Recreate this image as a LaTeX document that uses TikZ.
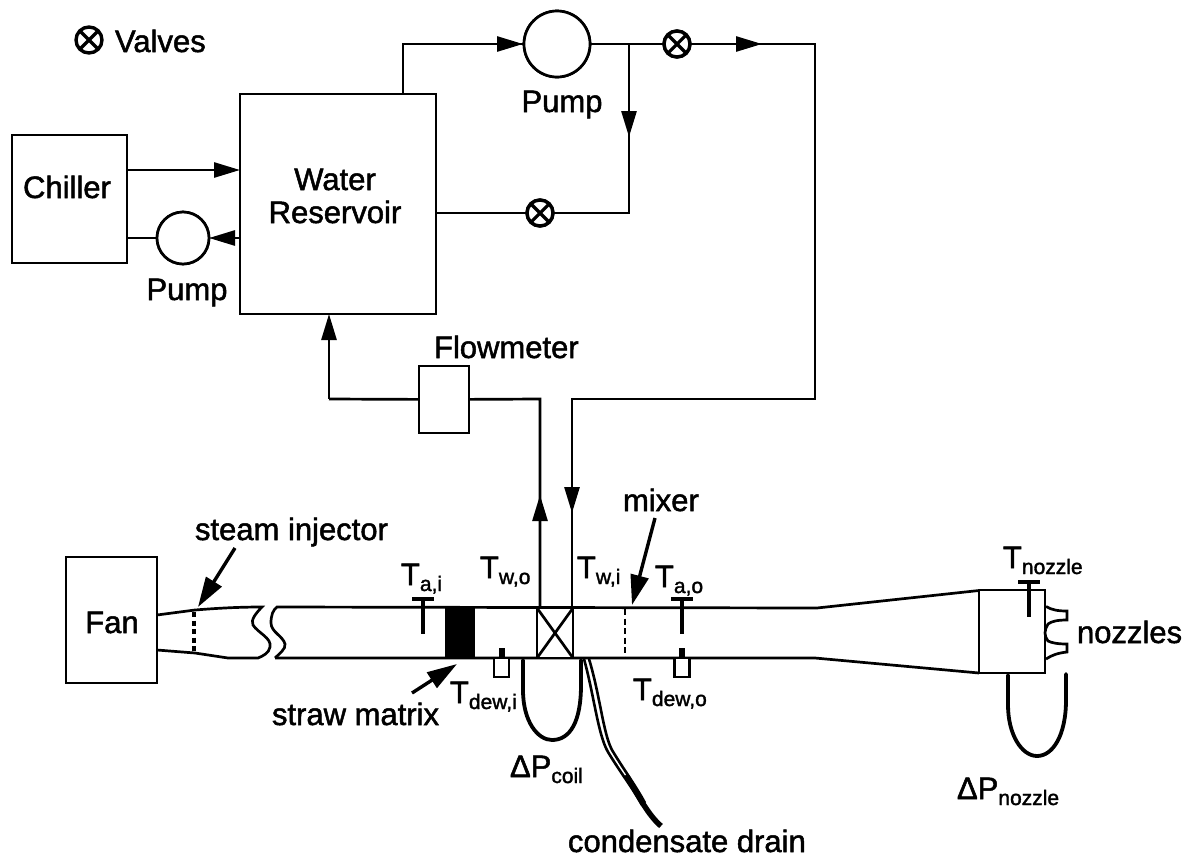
\documentclass[tikz,border=0pt]{standalone}
\usepackage{fontspec}
\setmainfont[FakeBold=1.6]{Liberation Sans}
\usetikzlibrary{arrows.meta}
\newcommand{\subs}[1]{\raisebox{-6pt}{\fontsize{21}{24}\selectfont #1}}
\tikzset{
  x=1pt,y=-1pt,
  pipe/.style={line width=2.7pt,line join=miter},
  flow/.style={pipe,-{Triangle[length=26pt,width=15pt]}},
  tube/.style={line width=3.8pt,line cap=round},
  boxnode/.style={draw,line width=2.7pt,rectangle,inner sep=0pt,outer sep=0pt,fill=white},
  pumpnode/.style={draw,line width=2.7pt,circle,inner sep=0pt,outer sep=0pt,fill=white},
  valvenode/.style={draw,line width=3.4pt,circle,inner sep=0pt,outer sep=0pt,fill=white,minimum size=26pt,
    path picture={\draw[line width=3.2pt] (path picture bounding box.south west)--(path picture bounding box.north east)
      (path picture bounding box.south east)--(path picture bounding box.north west);}},
  lab/.style={inner sep=0pt,outer sep=0pt,font=\fontsize{31}{35}\selectfont},
  sens/.style={line width=3.4pt},
  txtb/.style={lab,anchor=base},
  txtw/.style={lab,anchor=base west},
  pointer/.style={line width=3.4pt,-{Triangle[length=30pt,width=18pt]}},
}
\begin{document}
\begin{tikzpicture}
\useasboundingbox (0,0) rectangle (1193,857);

% ---- water circuit nodes
\node[boxnode,minimum width=115pt,minimum height=128pt] (chiller) at (69.5,199) {};
\node[boxnode,minimum width=196pt,minimum height=220pt] (res) at (338,204) {};
\node[pumpnode,minimum size=52pt] (pumpa) at (183,238) {};
\node[pumpnode,minimum size=66pt] (pumpb) at (557,44) {};
\node[valvenode] (valveL) at (89,40) {};
\node[valvenode] (valveT) at (677,44) {};
\node[valvenode] (valveB) at (540,213) {};
\node[boxnode,minimum width=50pt,minimum height=67pt] (flow) at (444,399.5) {};
\node[boxnode,minimum width=91pt,minimum height=126pt] (fan) at (111.5,620) {};
\node[boxnode,minimum width=66pt,minimum height=83pt] (plenum) at (1012,631.5) {};
\node[boxnode,minimum width=36pt,minimum height=50pt] (coil) at (555,633) {};

% ---- bend points
\coordinate (c1) at (403,94);
\coordinate (c2) at (403,44);
\coordinate (c3) at (523,44);
\coordinate (j1) at (629,44);
\coordinate (j2) at (629,137);
\coordinate (j3) at (629,213);
\coordinate (r1) at (815,44);
\coordinate (r2) at (762,44);
\coordinate (r3) at (815,399);
\coordinate (r4) at (572,399);
\coordinate (r5) at (572,513);
\coordinate (r6) at (572,608);
\coordinate (l1) at (540,399);
\coordinate (l2) at (540,495);
\coordinate (l3) at (540,608);
\coordinate (f1) at (329,399);
\coordinate (f2) at (329,314);
\coordinate (ch1) at (127,170);
\coordinate (ch2) at (240,170);
\coordinate (ch3) at (127,238);
\coordinate (ch4) at (240,238);
\coordinate (rb) at (436,213);

% ---- water connectors
\draw[pipe] (c1)--(c2)--(c3);
\draw[flow] (c2)--(c3);
\draw[pipe] (pumpb)--(valveT);
\draw[pipe] (valveT)--(r1)--(r3)--(r4)--(r6);
\draw[flow] (valveT)--(r2);
\draw[flow] (j1)--(j2);
\draw[pipe] (j1)--(j3)--(valveB);
\draw[pipe] (valveB)--(rb);
\draw[flow] (r4)--(r5);
\draw[pipe] (l3)--(l1)--(flow);
\draw[flow] (l3)--(l2);
\draw[pipe] (flow)--(f1);
\draw[flow] (f1)--(f2);
\draw[flow] (ch1)--(ch2);
\draw[pipe] (ch3)--(pumpa);
\draw[flow] (ch4)--(pumpa.east);
\node[pumpnode,minimum size=66pt] at (pumpb) {};
\node[valvenode] at (valveT) {};
\node[valvenode] at (valveB) {};
\node[pumpnode,minimum size=52pt] at (pumpa) {};
\node[boxnode,minimum width=50pt,minimum height=67pt] at (flow) {};

% ---- air duct
\coordinate (dTa) at (157,615);
\coordinate (dBa) at (157,650);
\coordinate (dTb) at (262,607);
\coordinate (dBb) at (258,658);
\coordinate (dTc) at (277,607);
\coordinate (dBc) at (275,658);
\coordinate (dTd) at (817,608);
\coordinate (dBd) at (815,658);
\coordinate (dTe) at (979,590.5);
\coordinate (dBe) at (979,673);
\draw[pipe] (dTa)--(195,610) .. controls (220,608) and (240,607) .. (dTb)
  .. controls (257,612) and (250,620) .. (253,625) .. controls (258,633) and (272,638) .. (270,647)
  .. controls (269,653) and (263,656) .. (dBb) -- (228,658) -- (195,653) -- (dBa);
\draw[pipe] (dBc) .. controls (279,654) and (286,649) .. (285,644) .. controls (283,636) and (271,632) .. (271,623)
  .. controls (271,615) and (273,610) .. (dTc)--(dTd)--(dTe);
\draw[pipe] (dBc)--(dBd)--(dBe);
\node[boxnode,minimum width=66pt,minimum height=83pt] at (plenum) {};
\draw[line width=3.6pt,dash pattern=on 5pt off 3.5pt] (194,612)--(194,652);
\draw[line width=2.8pt,dash pattern=on 6pt off 3.5pt] (625,609)--(625,657);
\node[boxnode,minimum width=36pt,minimum height=50pt] at (coil) {};
\draw[pipe] (coil.north west)--(coil.south east) (coil.north east)--(coil.south west);

% straw matrix
\node[boxnode,fill=black,minimum width=27pt,minimum height=50pt] (straw) at (460,633) {};

% temperature probes
\coordinate (tai) at (423,599);
\coordinate (tao) at (682,599);
\coordinate (tnz) at (1029,582);
\draw[sens] (tai)++(-11,0)--++(22,0) (tai)--++(0,35);
\draw[sens] (tao)++(-11,0)--++(22,0) (tao)--++(0,35);
\draw[sens,line width=4.5pt] (tnz)++(-11,0)--++(22,0) (tnz)--++(0,35);
\node[boxnode,minimum width=15pt,minimum height=19pt] (dpi) at (501.5,667.5) {};
\node[boxnode,minimum width=15pt,minimum height=19pt] (dpo) at (682,667.5) {};
\draw[line width=6pt] (dpi.north)--++(0,-10);
\draw[line width=6pt] (dpo.north)--++(0,-10);

% nozzles
\draw[pipe] (1046,606.5) .. controls (1052,610) and (1058,611) .. (1067,611) -- (1067,620)
  .. controls (1058,620) and (1052,621) .. (1048,624) .. controls (1044,630) and (1044,636) .. (1048,641)
  .. controls (1052,643) and (1058,644) .. (1067,644) -- (1067,652) .. controls (1058,653) and (1052,655) .. (1046,659);

% U tubes
\draw[tube] (523,660) -- (523,690) .. controls (523,722) and (538,740) .. (552,740) .. controls (570,740) and (581,722) .. (581,685) -- (581,660);
\draw[tube] (1008,675) -- (1008,705) .. controls (1008,735) and (1022,756) .. (1037,756) .. controls (1053,756) and (1066,735) .. (1066,700) -- (1066,674);

% drain
\coordinate (dr0) at (584,659);
\draw[line width=2.6pt] (dr0) .. controls (594,695) and (598,735) .. (608,752) .. controls (620,772) and (634,790) .. (642,805);
\draw[line width=2.6pt] (589,659) .. controls (600,695) and (603,733) .. (612,750) .. controls (624,770) and (636,786) .. (645,803);
\draw[line width=5.5pt] (626,775) .. controls (638,795) and (648,815) .. (661,826);

% pointers
\coordinate (pa1) at (235,548); \coordinate (pa2) at (198,607);
\coordinate (pb1) at (655,518); \coordinate (pb2) at (632,605);
\coordinate (pc1) at (412,693); \coordinate (pc2) at (457,664);
\draw[pointer] (pa1)--(pa2);
\draw[pointer] (pb1)--(pb2);
\draw[pointer] (pc1)--(pc2);

% ---- labels
\node[txtw] (tvalves) at (115,52) {Valves};
\node[txtb] (tchiller) at (67,198) {Chiller};
\node[txtb] (twater) at (335,190) {Water};
\node[txtb] (tres) at (335,223) {Reservoir};
\node[txtb] (tpa) at (187,300) {Pump};
\node[txtb] (tpb) at (562,112) {Pump};
\node[txtw] (tflow) at (434,358) {Flowmeter};
\node[txtb] (tfan) at (112,633) {Fan};
\node[txtw] (tsteam) at (195,540) {steam injector};
\node[txtw] (tmixer) at (623,511) {mixer};
\node[txtw] (tstraw) at (272,725) {straw matrix};
\node[txtw] (tdrain) at (568,852) {condensate drain};
\node[txtw] (tnoz) at (1077,643) {nozzles};
\node[txtw] (ltai) at (401,585) {T\subs{a,i}};
\node[txtw] (ltwo) at (480,578) {T\subs{w,o}};
\node[txtw] (ltwi) at (577,578) {T\subs{w,i}};
\node[txtw] (ltao) at (655,587) {T\subs{a,o}};
\node[txtw] (ltdi) at (450,703) {T\subs{dew,i}};
\node[txtw] (ltdo) at (633,700) {T\subs{dew,o}};
\node[txtw] (ltnz) at (1003,568) {T\subs{nozzle}};
\node[txtw] (ldpc) at (510,777) {ΔP\subs{coil}};
\node[txtw] (ldpn) at (957,799) {ΔP\subs{nozzle}};
\end{tikzpicture}
\end{document}
